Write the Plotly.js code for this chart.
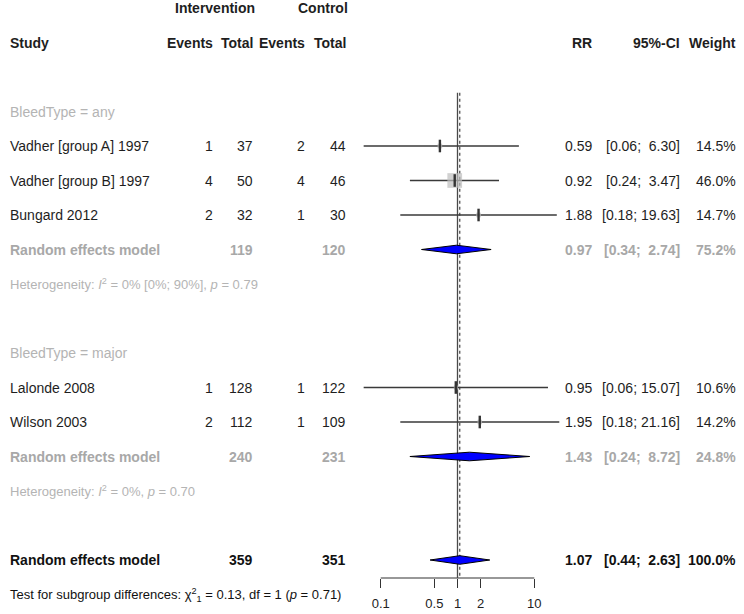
<!DOCTYPE html>
<html>
<head>
<meta charset="utf-8">
<script src="https://cdn.plot.ly/plotly-3.0.1.min.js"></script>
<style>
  html, body { margin: 0; padding: 0; background: #ffffff; }
  #forest { width: 744px; height: 614px; }
</style>
</head>
<body>
<div id="forest"></div>
<script>
// ---- Study-level data (risk ratios, 95% CI, random-effects weights) ----
var studies   = ["Vadher [group A] 1997", "Vadher [group B] 1997", "Bungard 2012", "Lalonde 2008", "Wilson 2003"];
var subgroup  = ["any", "any", "any", "major", "major"];
var eventsInt = [1, 4, 2, 1, 2];
var totalInt  = [37, 50, 32, 128, 112];
var eventsCtl = [2, 4, 1, 1, 1];
var totalCtl  = [44, 46, 30, 122, 109];
var rr        = [0.59, 0.92, 1.88, 0.95, 1.95];
var ciLow     = [0.06, 0.24, 0.18, 0.06, 0.18];
var ciHigh    = [6.30, 3.47, 19.63, 15.07, 21.16];
var weight    = [14.5, 46.0, 14.7, 10.6, 14.2];

// ---- Pooled estimates per subgroup ----
var groupNames    = ["any", "major"];
var groupTotalInt = [119, 240];
var groupTotalCtl = [120, 231];
var groupRR       = [0.97, 1.43];
var groupLow      = [0.34, 0.24];
var groupHigh     = [2.74, 8.72];
var groupWeight   = [75.2, 24.8];
var groupHetero   = ["<i>I</i><sup>2</sup> = 0% [0%; 90%], <i>p</i> = 0.79",
                     "<i>I</i><sup>2</sup> = 0%, <i>p</i> = 0.70"];

// ---- Overall pooled estimate ----
var overallTotalInt = 359;
var overallTotalCtl = 351;
var overallRR       = 1.07;
var overallLow      = 0.44;
var overallHigh     = 2.63;
var overallWeight   = 100.0;
var subgroupTest    = "Test for subgroup differences: \u03c7<sup>2</sup><sub>1</sub> = 0.13, df = 1 (<i>p</i> = 0.71)";

// ---- Axis ticks ----
var tickValues = [0.1, 0.5, 1, 2, 10];
var tickLabels = ["0.1", "0.5", "1", "2", "10"];

// ---- Layout helpers ----
var W = 744, H = 614;
var ROW0 = 8, ROWH = 34.5;                 // pixel centre of row 0, row pitch
var FONT = "Liberation Sans, Arial, sans-serif";
var BLACK = "#1e1e1e", GREY = "#a8a8a8", GREY_LIGHT = "#b4b4b4";

// column anchors (pixels, right edge unless noted)
var COL = { study: 8, evI: 215, totI: 255, evC: 307, totC: 348, rr: 594, ci: 682, w: 738 };

function px(x) { return x / W; }
function fmt2(v) { return v.toFixed(2); }
function ciText(lo, hi) {
  var h = fmt2(hi);
  var pad = h.length < 5 ? "\u00a0" : "";
  return "[" + fmt2(lo) + ";\u00a0" + pad + h + "]";
}

var annotations = [];
function txt(text, x, row, anchor, opts) {
  opts = opts || {};
  annotations.push({
    text: text, x: px(x), y: row, xref: "paper", yref: "y",
    xanchor: anchor, yanchor: "middle", showarrow: false,
    font: { family: FONT, size: opts.size || 14, color: opts.color || BLACK,
            weight: opts.bold ? "bold" : "normal" }
  });
}

// header
txt("Intervention", 215, 0, "center", { bold: true });
txt("Control", 323, 0, "center", { bold: true });
txt("Study", COL.study, 1, "left", { bold: true });
txt("Events", COL.evI, 1, "right", { bold: true });
txt("Total", COL.totI, 1, "right", { bold: true });
txt("Events", COL.evC, 1, "right", { bold: true });
txt("Total", COL.totC, 1, "right", { bold: true });
txt("RR", COL.rr, 1, "right", { bold: true });
txt("95%-CI", COL.ci, 1, "right", { bold: true });
txt("Weight", COL.w, 1, "right", { bold: true });

// assign rows: group heading, studies, pooled row, heterogeneity, blank
var studyRow = [], groupRow = [], heteroRow = [], headRow = [];
var row = 3;
groupNames.forEach(function (g, gi) {
  headRow.push(row); row++;
  studies.forEach(function (s, i) { if (subgroup[i] === g) { studyRow[i] = row; row++; } });
  groupRow.push(row); row++;
  heteroRow.push(row); row += 2;
});
var overallRow = row;       // 16
var testRow = row + 1;      // 17

// study rows text
studies.forEach(function (s, i) {
  var r = studyRow[i];
  txt(s, COL.study, r, "left");
  txt(String(eventsInt[i]), COL.evI, r, "right");
  txt(String(totalInt[i]), COL.totI, r, "right");
  txt(String(eventsCtl[i]), COL.evC, r, "right");
  txt(String(totalCtl[i]), COL.totC, r, "right");
  txt(fmt2(rr[i]), COL.rr, r, "right");
  txt(ciText(ciLow[i], ciHigh[i]), COL.ci, r, "right");
  txt(weight[i].toFixed(1) + "%", COL.w, r, "right");
});

// subgroup rows text
groupNames.forEach(function (g, gi) {
  txt("BleedType = " + g, COL.study, headRow[gi], "left", { color: GREY_LIGHT });
  var r = groupRow[gi];
  var o = { bold: true, color: GREY };
  txt("Random effects model", COL.study, r, "left", o);
  txt(String(groupTotalInt[gi]), COL.totI, r, "right", o);
  txt(String(groupTotalCtl[gi]), COL.totC, r, "right", o);
  txt(fmt2(groupRR[gi]), COL.rr, r, "right", o);
  txt(ciText(groupLow[gi], groupHigh[gi]), COL.ci, r, "right", o);
  txt(groupWeight[gi].toFixed(1) + "%", COL.w, r, "right", o);
  txt("Heterogeneity: " + groupHetero[gi], COL.study, heteroRow[gi], "left",
      { color: GREY_LIGHT, size: 13 });
});

// overall row text
var ob = { bold: true, color: "#111111" };
txt("Random effects model", COL.study, overallRow, "left", ob);
txt(String(overallTotalInt), COL.totI, overallRow, "right", ob);
txt(String(overallTotalCtl), COL.totC, overallRow, "right", ob);
txt(fmt2(overallRR), COL.rr, overallRow, "right", ob);
txt(ciText(overallLow, overallHigh), COL.ci, overallRow, "right", ob);
txt(overallWeight.toFixed(1) + "%", COL.w, overallRow, "right", ob);
txt(subgroupTest, COL.study, testRow, "left", { size: 13, color: "#111111" });

// ---- Traces ----
var traces = [];
var axisRow = (578 - ROW0) / ROWH;        // row coordinate of the x-axis line
var refTop = 2.46;

// x-axis baseline spanning the first to the last tick
traces.push({ x: [tickValues[0], tickValues[tickValues.length - 1]], y: [axisRow, axisRow],
              mode: "lines", hoverinfo: "skip", cliponaxis: false,
              line: { color: "#333333", width: 1.2 } });

// reference line at RR = 1 and dotted line at the overall estimate
traces.push({ x: [1, 1], y: [refTop, axisRow], mode: "lines", hoverinfo: "skip",
              line: { color: "#4a4a4a", width: 1.3 } });
traces.push({ x: [overallRR, overallRR], y: [refTop, axisRow], mode: "lines", hoverinfo: "skip",
              line: { color: "#444444", width: 1.2, dash: "dot" } });

// confidence-interval lines
studies.forEach(function (s, i) {
  traces.push({ x: [ciLow[i], ciHigh[i]], y: [studyRow[i], studyRow[i]], mode: "lines",
                hoverinfo: "skip", line: { color: "#3a3a3a", width: 1.3 } });
});

// weight squares
traces.push({
  x: rr, y: studyRow, mode: "markers", hoverinfo: "skip",
  marker: { symbol: "square", color: "#bdbdbd",
            size: weight.map(function (w) { return Math.max(4, w * 0.32); }),
            line: { width: 0 } }
});
// point estimate ticks
traces.push({
  x: rr, y: studyRow, mode: "markers", hoverinfo: "skip",
  marker: { symbol: "line-ns", size: 9, line: { color: "#333333", width: 2.4 } }
});

// diamonds
var DH = 0.125;
function diamond(lo, est, hi, r) {
  traces.push({
    x: [lo, est, hi, est, lo], y: [r, r - DH, r, r + DH, r],
    mode: "lines", fill: "toself", fillcolor: "#0000ff", hoverinfo: "skip",
    line: { color: "#000000", width: 1 }
  });
}
groupNames.forEach(function (g, gi) { diamond(groupLow[gi], groupRR[gi], groupHigh[gi], groupRow[gi]); });
diamond(overallLow, overallRR, overallHigh, overallRow);

// ---- Layout ----
var decade = 76.8, onePx = 457.5;
var axisPos = (H - 578) / H;
var layout = {
  width: W, height: H,
  margin: { l: 0, r: 0, t: 0, b: 0, pad: 0 },
  paper_bgcolor: "#ffffff", plot_bgcolor: "#ffffff",
  showlegend: false,
  xaxis: {
    type: "log",
    range: [-onePx / decade, (W - onePx) / decade],
    anchor: "free", position: axisPos,
    showline: false, showgrid: false, zeroline: false,
    ticks: "outside", ticklen: 9, tickwidth: 1.2, tickcolor: "#333333",
    tickvals: tickValues, ticktext: tickLabels,
    ticklabelstandoff: 4,
    tickfont: { family: FONT, size: 13, color: "#222222" },
    fixedrange: true, automargin: false
  },
  yaxis: {
    range: [(H - ROW0) / ROWH, -ROW0 / ROWH],
    visible: false, showgrid: false, zeroline: false, fixedrange: true
  },
  annotations: annotations
};

Plotly.newPlot("forest", traces, layout, { staticPlot: true, displayModeBar: false });
</script>
</body>
</html>
